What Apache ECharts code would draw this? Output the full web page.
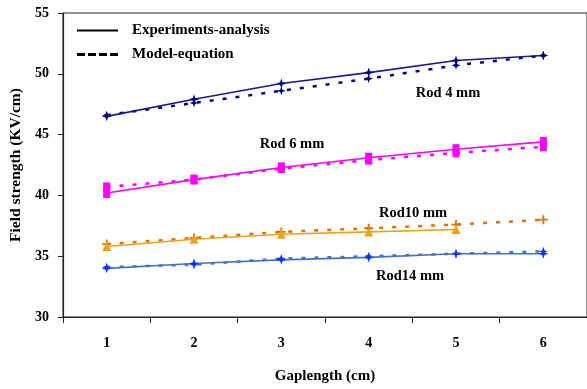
<!DOCTYPE html>
<html><head><meta charset="utf-8">
<script src="https://cdn.jsdelivr.net/npm/echarts@6/dist/echarts.min.js"></script>
<style>html,body{margin:0;padding:0;background:#fff;overflow:hidden}#c{width:587px;height:389px}</style>
</head><body><div id="c"></div>
<script>
const categories = ['1','2','3','4','5','6'];
const rod4Exp   = [46.5, 47.9, 49.2, 50.1, 51.1, 51.5];
const rod4Model = [46.6, 47.6, 48.6, 49.6, 50.7, 51.5];
const rod6Exp   = [40.2, 41.3, 42.3, 43.1, 43.8, 44.4];
const rod6Model = [40.7, 41.3, 42.2, 42.9, 43.5, 44.0];
const rod10Exp  = [35.8, 36.4, 36.8, 37.0, 37.2];
const rod10Model= [36.0, 36.5, 37.0, 37.3, 37.6, 38.0];
const rod14Exp  = [34.0, 34.4, 34.7, 34.9, 35.2, 35.2];
const rod14Model= [34.1, 34.3, 34.8, 35.0, 35.2, 35.4];
const yTicks = [30, 35, 40, 45, 50, 55];
const legendNames = ['Experiments-analysis', 'Model-equation'];

const FONT = 'Liberation Serif';
const star = 'path://M0,-10 L2.5,-2.5 L10,0 L2.5,2.5 L0,10 L-2.5,2.5 L-10,0 L-2.5,-2.5 Z';
const plus = 'path://M-1,-5 L1,-5 L1,-1 L5,-1 L5,1 L1,1 L1,5 L-1,5 L-1,1 L-5,1 L-5,-1 L-1,-1 Z';
const dash = [4, 9];
const solidIcon = 'path://M0,0 L42,0 L42,2 L0,2 Z';
const dashIcon = 'path://M0,0 h8 v3 h-8 Z M11,0 h8 v3 h-8 Z M22,0 h8 v3 h-8 Z M33,0 h8 v3 h-8 Z';

function solid(name, data, color, symColor, symbol, size) {
  return {name, type: 'line', data, symbol, symbolSize: size, showSymbol: true,
    lineStyle: {color, width: 1.6}, itemStyle: {color: symColor}, z: 3, animation: false};
}
function dashed(name, data, color, symColor, symbol, size) {
  return {name, type: 'line', data, symbol, symbolSize: size,
    lineStyle: {color, width: 2.5, type: dash}, itemStyle: {color: symColor}, z: 2, animation: false};
}
const annFont = 'bold 14.5px "Liberation Serif"';

const chart = echarts.init(document.getElementById('c'));
chart.setOption({
  animation: false,
  grid: {left: 63, top: 13, right: 0, bottom: 64, show: true, borderColor: '#222', borderWidth: 1},
  legend: {
    data: [{name: legendNames[0], icon: solidIcon}, {name: legendNames[1], icon: dashIcon}],
    orient: 'vertical', left: 72, top: 18, itemWidth: 41, itemHeight: 15, itemGap: 9,
    textStyle: {fontFamily: FONT, fontWeight: 'bold', fontSize: 15, color: '#000', padding: [7, 0, 0, 9]},
    selectedMode: false
  },
  xAxis: {
    type: 'category', data: categories, boundaryGap: true,
    name: 'Gaplength (cm)', nameLocation: 'middle', nameGap: 52,
    nameTextStyle: {fontFamily: FONT, fontWeight: 'bold', fontSize: 15, color: '#000'},
    axisLine: {lineStyle: {color: '#222', width: 1.2}},
    axisTick: {show: true, length: 6, lineStyle: {color: '#222'}},
    axisLabel: {fontFamily: FONT, fontWeight: 'bold', fontSize: 14, color: '#000', margin: 19},
    splitLine: {show: false}
  },
  yAxis: {
    type: 'value', min: yTicks[0], max: yTicks[yTicks.length - 1], interval: 5,
    name: 'Field strength (KV/cm)', nameLocation: 'middle', nameGap: 38,
    nameTextStyle: {fontFamily: FONT, fontWeight: 'bold', fontSize: 15.5, color: '#000'},
    axisLine: {show: true, lineStyle: {color: '#222', width: 1.2}},
    axisTick: {show: true, length: 5, lineStyle: {color: '#222'}},
    axisLabel: {fontFamily: FONT, fontWeight: 'bold', fontSize: 14, color: '#000', margin: 14},
    splitLine: {show: false}
  },
  series: [
    {name: legendNames[0], type: 'line', data: [], symbol: 'none', itemStyle: {color: '#000'}, lineStyle: {color: '#000'}},
    {name: legendNames[1], type: 'line', data: [], symbol: 'none', itemStyle: {color: '#000'}, lineStyle: {color: '#000'}},
    dashed('Rod 4 model', rod4Model, '#000080', '#000080', star, 9),
    solid('Rod 4 exp', rod4Exp, '#1a1a8c', '#000080', star, 10),
    dashed('Rod 6 model', rod6Model, '#ff00ff', '#ff00ff', 'rect', [7, 9]),
    solid('Rod 6 exp', rod6Exp, '#ff00ff', '#ff00ff', 'rect', [7, 10]),
    dashed('Rod 10 model', rod10Model, '#e46c0a', '#e46c0a', plus, 9),
    solid('Rod 10 exp', rod10Exp, '#e8a317', '#e8a317', 'triangle', 9),
    dashed('Rod 14 model', rod14Model, '#4472c4', '#0033ff', star, 9),
    solid('Rod 14 exp', rod14Exp, '#4472c4', '#0033ff', star, 10)
  ],
  graphic: [
    {type: 'text', x: 448, y: 93, style: {text: 'Rod 4 mm', font: annFont, fill: '#000', align: 'center', verticalAlign: 'middle'}},
    {type: 'text', x: 292, y: 144, style: {text: 'Rod 6 mm', font: annFont, fill: '#000', align: 'center', verticalAlign: 'middle'}},
    {type: 'text', x: 413, y: 213, style: {text: 'Rod10 mm', font: annFont, fill: '#000', align: 'center', verticalAlign: 'middle'}},
    {type: 'text', x: 410, y: 276, style: {text: 'Rod14 mm', font: annFont, fill: '#000', align: 'center', verticalAlign: 'middle'}}
  ]
});
</script></body></html>
